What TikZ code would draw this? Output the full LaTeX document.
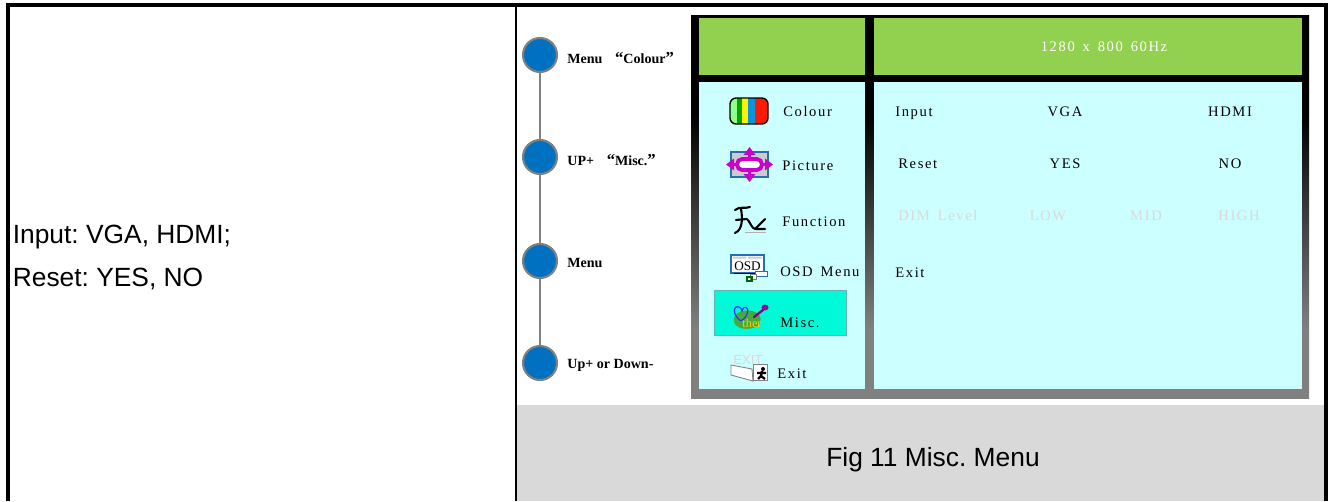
\documentclass[tikz,border=0pt]{standalone}
\usepackage{fontspec}
\setmainfont{Liberation Serif}
\newfontfamily\arialfont{Liberation Sans}
\newfontfamily\osdfont[LetterSpace=11, WordSpace=1.5]{Liberation Serif}
\usetikzlibrary{positioning}
\definecolor{osdgreen}{RGB}{146,208,80}
\definecolor{osdcyan}{RGB}{204,255,255}
\definecolor{osdsel}{RGB}{0,250,216}
\definecolor{btnblue}{RGB}{0,112,192}
\definecolor{capgray}{RGB}{217,217,217}
\definecolor{dimtext}{RGB}{220,216,218}
\definecolor{picmag}{RGB}{204,0,204}
\definecolor{iconblue}{RGB}{40,110,180}
\definecolor{miscgreen}{RGB}{70,170,60}
\pgfdeclareverticalshading{monframe}{100bp}{color(0bp)=(gray); color(34bp)=(gray); color(62bp)=(black); color(100bp)=(black)}
\frenchspacing

\begin{document}
\begin{tikzpicture}[x=0.02cm, y=-0.02cm,
    btn/.style={circle, fill=btnblue, draw=gray, line width=1.2pt, minimum size=0.68cm, inner sep=0},
    btnlabel/.style={anchor=base west, inner sep=0, font=\bfseries\fontsize{8}{9}\selectfont},
    osdtext/.style={inner sep=0, font=\osdfont\fontsize{8.3}{10}\selectfont},
    osddim/.style={osdtext, text=dimtext},
    sidetext/.style={inner sep=0, font=\arialfont\fontsize{15}{18}\selectfont}]
  \useasboundingbox (0,0) rectangle (1328,501);
  % table
  \fill[capgray] (517,405) rectangle (1325,501);
  \draw[line width=2.2pt] (8,501) -- (8,5) -- (1326,5) -- (1326,501);
  \draw[line width=1.2pt] (516,5) -- (516,501);
  \node[sidetext, anchor=base west] (inp) at (12.5,243) {Input: VGA, HDMI;};
  \node[sidetext, anchor=base west] (rst) at (12.5,286) {Reset: YES, NO};
  \node[sidetext, anchor=base] (cap) at (933,466) {Fig 11 Misc. Menu};

  % keys
  \node[btn] (c1) at (540,55) {};
  \node[btn] (c2) at (540,157) {};
  \node[btn] (c3) at (540,261) {};
  \node[btn] (c4) at (540,363) {};
  \draw[gray, line width=1.1pt] (c1) -- (c2) -- (c3) -- (c4);
  \node[btnlabel] (l1) at (567,63) {Menu\hspace{0.9em}{\fontsize{9.5}{9}\selectfont“}Colour{\fontsize{9.5}{9}\selectfont”}};
  \node[btnlabel] (l2) at (567,165) {UP+\hspace{0.9em}{\fontsize{9.5}{9}\selectfont“}Misc.{\fontsize{9.5}{9}\selectfont”}};
  \node[btnlabel] (l3) at (567,267) {Menu};
  \node[btnlabel] (l4) at (567,368) {Up+ or Down-};

  % screen
  \shade[shading=monframe] (691,15) rectangle (1309,398);
  \fill[osdgreen] (699,18) rectangle (865,75);
  \fill[osdgreen] (874,18) rectangle (1302,75);
  \fill[osdcyan] (699,82) rectangle (865,389);
  \fill[osdcyan] (874,82) rectangle (1302,389);
  \node[osdtext, text=white, anchor=base] (res) at (1104,51) {1280 x 800 60Hz};
  \draw[draw=teal!60, fill=osdsel] (714,290) rectangle (846,335);

  \node[osdtext, anchor=base west] (colour) at (783,116) {Colour};
  \node[osdtext, anchor=base west] (pict) at (782,170) {Picture};
  \node[osdtext, anchor=base west] (func) at (782,226) {Function};
  \node[osdtext, anchor=base west] (osdm) at (780,276) {OSD Menu};
  \node[osdtext, anchor=base west] (misc) at (780,327) {Misc.};
  \node[osdtext, anchor=base west] (exit) at (777,378) {Exit};

  \node[osdtext, anchor=base west] (input) at (895,116) {Input};
  \node[osdtext, anchor=base] (vga) at (1065,116) {VGA};
  \node[osdtext, anchor=base] (hdmi) at (1230,116) {HDMI};
  \node[osdtext, anchor=base west] (reset) at (898,168) {Reset};
  \node[osdtext, anchor=base] (yes) at (1065,168) {YES};
  \node[osdtext, anchor=base] (no) at (1230,168) {NO};
  \node[osddim, anchor=base west] (dim) at (898,220) {DIM Level};
  \node[osddim, anchor=base] (low) at (1048,220) {LOW};
  \node[osddim, anchor=base] (mid) at (1146,220) {MID};
  \node[osddim, anchor=base] (high) at (1239,220) {HIGH};
  \node[osdtext, anchor=base west] (exit2) at (895,277) {Exit};

  % icons
  \begin{scope}
    \clip[rounded corners=3.5pt] (730,98) rectangle (768,124);
    \fill[green!45] (730,98) rectangle (737,124);
    \fill[green!65!black] (737,98) rectangle (742,124);
    \fill[yellow] (742,98) rectangle (748,124);
    \fill[cyan!80!blue] (748,98) rectangle (755,124);
    \fill[red!80!orange] (755,98) rectangle (768,124);
  \end{scope}
  \draw[rounded corners=3.5pt, line width=0.8pt] (730,98) rectangle (768,124);

  \draw[fill=gray!40, draw=iconblue, line width=0.6pt] (731,152) rectangle (768,177);
  \draw[picmag, line width=2pt] (749.5,159) -- (749.5,152) (749.5,170) -- (749.5,177)
    (737,164.5) -- (731,164.5) (762,164.5) -- (768,164.5);
  \fill[picmag] (749.5,147) -- (743.5,155) -- (755.5,155) -- cycle
    (749.5,182) -- (743.5,174) -- (755.5,174) -- cycle
    (726,164.5) -- (734,158.5) -- (734,170.5) -- cycle
    (773,164.5) -- (765,158.5) -- (765,170.5) -- cycle;
  \draw[picmag, line width=2.2pt, fill=white, rounded corners=3pt] (737,159) rectangle (762,170);

  \draw[line width=1.2pt, line cap=round] (735,210) .. controls (740,206) and (745,209) .. (750,207);
  \draw[line width=1.2pt, line cap=round] (741,209) .. controls (743,220) and (742,230) .. (735,233);
  \draw[line width=1.2pt, line cap=round] (736,220) -- (747,219);
  \draw[line width=1.2pt, line cap=round] (748,220) .. controls (751,224) and (752,229) .. (756,229) -- (765,229);
  \draw[line width=1.2pt, line cap=round] (765,219) -- (755,229);
  \draw[gray!60, line width=0.4pt] (745,232) -- (766,232);

  \draw[fill=white, draw=iconblue, line width=0.6pt] (731,255) rectangle (764,273);
  \fill[gray!40] (733,256.5) rectangle (746,258.5) (748,256.5) rectangle (762,258.5);
  \node[inner sep=0, font=\fontsize{7.5}{8}\selectfont, anchor=base] (osdlogo) at (747.5,270.5) {\underline{OSD}};
  \draw[fill=white, draw=iconblue, line width=0.5pt] (755,271) rectangle (767,276);
  \draw[fill=white, draw=gray, line width=0.5pt] (750,274) rectangle (756,279);
  \draw[green!40!black, line width=0.6pt] (747,277) rectangle (752,281);

  \fill[miscgreen] (734,322) .. controls (732,312) and (745,309) .. (752,311)
    .. controls (760,313) and (762,318) .. (760,323) .. controls (757,330) and (737,332) .. cycle;
  \draw[blue!80, line width=0.7pt] (741,321) .. controls (732,315) and (733,305) .. (739,307)
    .. controls (741,308) .. (742,311) .. controls (743,305) and (750,306) .. (747,314)
    .. controls (746,317) .. (741,321);
  \draw[violet, line width=1.3pt, line cap=round] (763,310) -- (754,317);
  \fill[violet!80!magenta] (765,307.5) ellipse (3.5 and 3);
  \node[inner sep=0, font=\fontsize{7}{7}\selectfont, text=orange!40!yellow, anchor=base] (ther) at (752,327) {ther};

  \node[inner sep=0, font=\arialfont\fontsize{7.5}{8}\selectfont, text=gray!30, anchor=base] (exitlogo) at (748,364) {EXIT};
  \draw[gray, line width=0.5pt, fill=white] (731,365) -- (752,369) -- (753,381) -- (731,375) -- cycle;
  \draw[gray, line width=0.5pt, fill=white] (753,364) rectangle (767,380);
  \fill (763,369) circle (2);
  \draw[line width=1.3pt] (762,371) -- (761,376) (757,373) -- (766,373) (761,376) -- (758,379) (761,376) -- (765,379);
\end{tikzpicture}
\end{document}
